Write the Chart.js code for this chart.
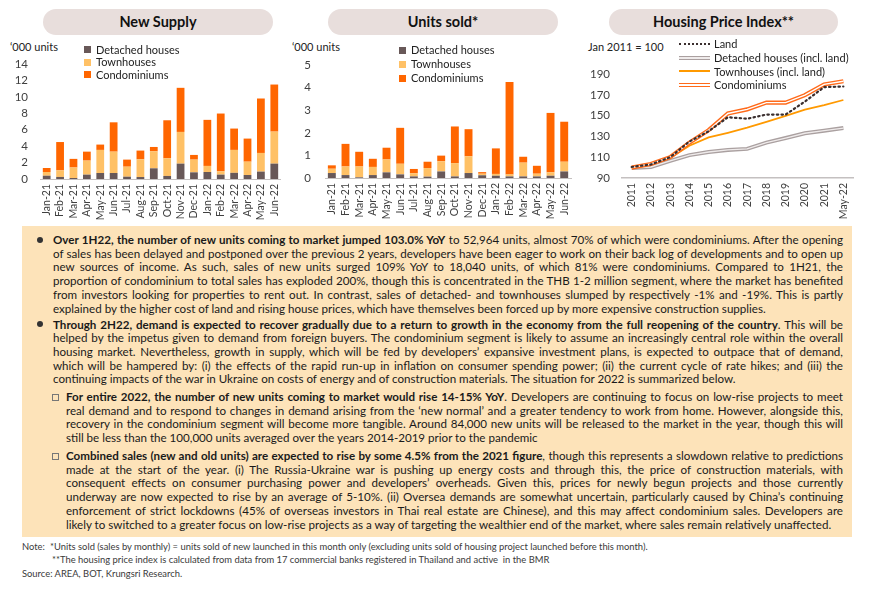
<!DOCTYPE html>
<html>
<head>
<meta charset="utf-8">
<script src="https://cdn.jsdelivr.net/npm/chart.js@4.4.0/dist/chart.umd.min.js"></script>
<style>
  body { margin: 0; background: #fff; font-family: Lato, "Noto Sans", sans-serif; color: #1a1a1a; }
  #page { position: relative; width: 870px; height: 590px; overflow: hidden; }
  canvas { position: absolute; }
  .pill { position: absolute; top: 9px; height: 26px; line-height: 26px; border-radius: 13px;
          background: #e8dedc; text-align: center; font-weight: bold; font-size: 14.5px; color: #111; }
  .unit { position: absolute; top: 40px; font-size: 11px; line-height: 14px; color: #222; white-space: nowrap; }
  .leg { position: absolute; font-size: 11px; color: #222; white-space: nowrap; }
  .leg div { display: flex; align-items: center; }
  .sq { width: 7px; height: 7px; margin-right: 5px; }
  .ico { width: 31px; margin-right: 4px; box-sizing: content-box; }
  .box { position: absolute; left: 22px; top: 226px; width: 830px; height: 311px; background: #fde3b9; }
  .para { position: absolute; font-size: 11.6px; line-height: 13.7px; }
  .ln { white-space: nowrap; text-align: justify; text-align-last: justify; overflow: visible; }
  .ln.last { text-align: left; text-align-last: left; }
  .dot { position: absolute; width: 6px; height: 6px; border-radius: 50%; background: #333; }
  .sqb { position: absolute; width: 5px; height: 5px; border: 1px solid #777; }
  .note { position: absolute; font-size: 9.4px; line-height: 13.3px; color: #3a3a3a; white-space: nowrap; }
</style>
</head>
<body>
<div id="page">
  <div class="pill" style="left:43px;width:230px">New Supply</div>
  <div class="pill" style="left:328px;width:230px">Units sold*</div>
  <div class="pill" style="left:609px;width:229px">Housing Price Index**</div>

  <div class="unit" style="left:10px">‘000 units</div>
  <div class="unit" style="left:292px">‘000 units</div>
  <div class="unit" style="left:588px">Jan 2011 = 100</div>

  <canvas id="supply" width="292" height="185" style="left:0;top:40px"></canvas>
  <canvas id="sold" width="290" height="185" style="left:292px;top:40px"></canvas>
  <canvas id="hpi" width="288" height="185" style="left:582px;top:40px"></canvas>

  <div class="leg" style="left:84px;top:43.5px;line-height:12.5px">
    <div><span class="sq" style="background:#685858"></span>Detached houses</div>
    <div><span class="sq" style="background:#ffc166"></span>Townhouses</div>
    <div><span class="sq" style="background:#ff6600"></span>Condominiums</div>
  </div>
  <div class="leg" style="left:399px;top:43px;line-height:14px">
    <div><span class="sq" style="background:#685858"></span>Detached houses</div>
    <div><span class="sq" style="background:#ffc166"></span>Townhouses</div>
    <div><span class="sq" style="background:#ff6600"></span>Condominiums</div>
  </div>
  <div class="leg" style="left:679px;top:37px;line-height:13.8px">
    <div><span class="ico" style="border-top:2.4px dotted #3a2e2e"></span>Land</div>
    <div><span class="ico" style="height:2px;background:#efebeb;border-top:1.3px solid #aaa0a0;border-bottom:1.3px solid #aaa0a0"></span>Detached houses (incl. land)</div>
    <div><span class="ico" style="height:2px;background:#ff9900"></span>Townhouses (incl. land)</div>
    <div><span class="ico" style="height:2px;background:#fff;border-top:1.2px solid #ff6a1a;border-bottom:1.2px solid #ff6a1a"></span>Condominiums</div>
  </div>

  <div class="box"></div>

  <div class="dot" style="left:37px;top:237px"></div>
  <div class="para" style="left:53px;top:233px;width:790px">
    <div class="ln"><b>Over 1H22, the number of new units coming to market jumped 103.0% YoY</b> to 52,964 units, almost 70% of which were condominiums. After the opening</div>
    <div class="ln">of sales has been delayed and postponed over the previous 2 years, developers have been eager to work on their back log of developments and to open up</div>
    <div class="ln">new sources of income. As such, sales of new units surged 109% YoY to 18,040 units, of which 81% were condominiums. Compared to 1H21, the</div>
    <div class="ln">proportion of condominium to total sales has exploded 200%, though this is concentrated in the THB 1-2 million segment, where the market has benefited</div>
    <div class="ln">from investors looking for properties to rent out. In contrast, sales of detached- and townhouses slumped by respectively -1% and -19%. This is partly</div>
    <div class="ln last">explained by the higher cost of land and rising house prices, which have themselves been forced up by more expensive construction supplies.</div>
  </div>

  <div class="dot" style="left:37px;top:321px"></div>
  <div class="para" style="left:53px;top:317.5px;width:790px">
    <div class="ln"><b>Through 2H22, demand is expected to recover gradually due to a return to growth in the economy from the full reopening of the country</b>. This will be</div>
    <div class="ln">helped by the impetus given to demand from foreign buyers. The condominium segment is likely to assume an increasingly central role within the overall</div>
    <div class="ln">housing market. Nevertheless, growth in supply, which will be fed by developers’ expansive investment plans, is expected to outpace that of demand,</div>
    <div class="ln">which will be hampered by: (i) the effects of the rapid run-up in inflation on consumer spending power; (ii) the current cycle of rate hikes; and (iii) the</div>
    <div class="ln last">continuing impacts of the war in Ukraine on costs of energy and of construction materials. The situation for 2022 is summarized below.</div>
  </div>

  <div class="sqb" style="left:52px;top:394px"></div>
  <div class="para" style="left:66px;top:390px;width:777px">
    <div class="ln"><b>For entire 2022, the number of new units coming to market would rise 14-15% YoY</b>. Developers are continuing to focus on low-rise projects to meet</div>
    <div class="ln">real demand and to respond to changes in demand arising from the ‘new normal’ and a greater tendency to work from home. However, alongside this,</div>
    <div class="ln">recovery in the condominium segment will become more tangible. Around 84,000 new units will be released to the market in the year, though this will</div>
    <div class="ln last">still be less than the 100,000 units averaged over the years 2014-2019 prior to the pandemic</div>
  </div>

  <div class="sqb" style="left:52px;top:453px"></div>
  <div class="para" style="left:66px;top:449px;width:777px">
    <div class="ln"><b>Combined sales (new and old units) are expected to rise by some 4.5% from the 2021 figure</b>, though this represents a slowdown relative to predictions</div>
    <div class="ln">made at the start of the year. (i) The Russia-Ukraine war is pushing up energy costs and through this, the price of construction materials, with</div>
    <div class="ln">consequent effects on consumer purchasing power and developers’ overheads. Given this, prices for newly begun projects and those currently</div>
    <div class="ln">underway are now expected to rise by an average of 5-10%. (ii) Oversea demands are somewhat uncertain, particularly caused by China’s continuing</div>
    <div class="ln">enforcement of strict lockdowns (45% of overseas investors in Thai real estate are Chinese), and this may affect condominium sales. Developers are</div>
    <div class="ln last">likely to switched to a greater focus on low-rise projects as a way of targeting the wealthier end of the market, where sales remain relatively unaffected.</div>
  </div>

  <div class="note" style="left:22px;top:540px">Note:</div>
  <div class="note" style="left:50px;top:540px">*Units sold (sales by monthly) = units sold of new launched in this month only (excluding units sold of housing project launched before this month).</div>
  <div class="note" style="left:52px;top:553.3px">**The housing price index is calculated from data from 17 commercial banks registered in Thailand and active&nbsp; in the BMR</div>
  <div class="note" style="left:22px;top:566.7px">Source: AREA, BOT, Krungsri Research.</div>
</div>

<script>
// monthly data, '000 units
const months = ['Jan-21', 'Feb-21', 'Mar-21', 'Apr-21', 'May-21', 'Jun-21', 'Jul-21', 'Aug-21', 'Sep-21',
  'Oct-21', 'Nov-21', 'Dec-21', 'Jan-22', 'Feb-22', 'Mar-22', 'Apr-22', 'May-22', 'Jun-22'];

const supplyDetached = [0.40, 0.25, 0.12, 0.53, 0.73, 0.73, 0.28, 0.24, 1.30, 0.37, 1.87, 0.81, 0.85, 0.53, 0.75, 0.49, 0.90, 1.87];
const supplyTownhouses = [0.45, 0.80, 1.28, 1.71, 2.81, 2.60, 1.22, 2.16, 2.07, 2.15, 3.86, 1.55, 0.74, 0.40, 2.79, 1.62, 2.27, 3.90];
const supplyCondos = [0.49, 3.45, 1.05, 1.09, 0.65, 3.57, 0.86, 1.06, 0.53, 4.63, 5.37, 0.57, 5.61, 7.04, 2.60, 2.81, 6.63, 5.73];

const soldDetached = [0.22, 0.13, 0.03, 0.13, 0.25, 0.16, 0.07, 0.06, 0.29, 0.07, 0.22, 0.12, 0.10, 0.07, 0.07, 0.07, 0.10, 0.29];
const soldTownhouses = [0.19, 0.38, 0.48, 0.36, 0.57, 0.47, 0.14, 0.38, 0.45, 0.59, 0.74, 0.07, 0.08, 0.09, 0.61, 0.12, 0.15, 0.43];
const soldCondos = [0.15, 1.00, 0.65, 0.36, 0.52, 1.59, 0.19, 0.28, 0.25, 1.62, 1.20, 0.07, 1.13, 4.09, 0.26, 0.35, 2.63, 1.77];

// housing price index, Jan 2011 = 100
const hpiYears = ['2011', '2012', '2013', '2014', '2015', '2016', '2017', '2018', '2019', '2020', '2021', 'May-22'];
const hpiLand = [100.6, 103, 110, 125, 135, 148.4, 147, 151, 151, 163.5, 177.4, 178];
const hpiDetached = [99.7, 100.6, 106.5, 112, 115, 117, 118, 124, 128.4, 133, 135.5, 138];
const hpiTownhouses = [100, 103, 109.4, 121, 129, 133.5, 138.4, 144, 149.7, 155.8, 160, 165];
const hpiCondos = [100, 103.5, 110, 124, 136, 152, 156, 162.5, 162.5, 169.7, 180, 183];

Chart.defaults.font.family = 'Lato';
Chart.defaults.color = '#404040';
Chart.defaults.animation = false;
Chart.defaults.plugins.legend.display = false;
Chart.defaults.plugins.tooltip.enabled = false;

function stackedBars(id, detached, town, condo, yMax, step, yWidth, yPad, pad, xHeight) {
  new Chart(document.getElementById(id), {
    type: 'bar',
    data: {
      labels: months,
      datasets: [
        { label: 'Detached houses', data: detached, backgroundColor: '#685858' },
        { label: 'Townhouses', data: town, backgroundColor: '#ffc166' },
        { label: 'Condominiums', data: condo, backgroundColor: '#ff6600' }
      ]
    },
    options: {
      responsive: false,
      layout: { padding: pad },
      datasets: { bar: { categoryPercentage: 1, barPercentage: 0.58 } },
      scales: {
        x: {
          stacked: true,
          grid: { display: false, drawTicks: false },
          border: { display: true, color: '#c4c0c0', width: 1 },
          ticks: { font: { size: 10.5 }, maxRotation: 90, minRotation: 90, padding: 5, autoSkip: false },
          afterFit: s => { s.height = xHeight; }
        },
        y: {
          stacked: true, min: 0, max: yMax,
          grid: { display: false, drawTicks: false },
          border: { display: false },
          ticks: { stepSize: step, font: { size: 11.5 }, padding: yPad, autoSkip: false },
          afterFit: s => { s.width = yWidth; }
        }
      }
    }
  });
}

stackedBars('supply', supplyDetached, supplyTownhouses, supplyCondos, 14, 2, 40, 12,
  { top: 24, right: 4, left: 0, bottom: 0 }, 46);
stackedBars('sold', soldDetached, soldTownhouses, soldCondos, 5, 1, 33, 14,
  { top: 25, right: 7, left: 0, bottom: 0 }, 47);

// double lines: a wide coloured line with a thin light one on top
new Chart(document.getElementById('hpi'), {
  type: 'line',
  data: {
    labels: hpiYears,
    datasets: [
      { label: 'Land', data: hpiLand, borderColor: '#3a2e2e', borderWidth: 2.2, borderDash: [1.5, 3.2], borderCapStyle: 'round', order: 0 },
      { label: 'Condominiums', data: hpiCondos, borderColor: '#ffffff', borderWidth: 1.4, order: 1 },
      { label: 'Condominiums', data: hpiCondos, borderColor: '#ff6a1a', borderWidth: 4.2, order: 2 },
      { label: 'Townhouses (incl. land)', data: hpiTownhouses, borderColor: '#ff9900', borderWidth: 1.8, order: 3 },
      { label: 'Detached houses (incl. land)', data: hpiDetached, borderColor: '#efebeb', borderWidth: 1.4, order: 4 },
      { label: 'Detached houses (incl. land)', data: hpiDetached, borderColor: '#aaa0a0', borderWidth: 4, order: 5 }
    ]
  },
  options: {
    responsive: false,
    layout: { padding: { top: 34, right: 17, left: 0, bottom: 0 } },
    elements: { point: { radius: 0 }, line: { tension: 0, fill: false } },
    scales: {
      x: {
        offset: true,
        grid: { display: false, drawTicks: false },
        border: { display: true, color: '#c4c0c0', width: 1.5 },
        ticks: { font: { size: 10.5 }, maxRotation: 90, minRotation: 90, padding: 5, autoSkip: false },
        afterFit: s => { s.height = 47; }
      },
      y: {
        min: 90, max: 190,
        grid: { display: false, drawTicks: false },
        border: { display: false },
        ticks: { stepSize: 20, font: { size: 11.5 }, padding: 12, autoSkip: false },
        afterFit: s => { s.width = 40; }
      }
    }
  }
});

// squeeze any justified line that runs past its box
document.querySelectorAll('.ln').forEach(el => {
  let ls = 0;
  while (el.scrollWidth > el.clientWidth + 0.5 && ls > -1) {
    ls -= 0.05;
    el.style.letterSpacing = ls + 'px';
  }
});
</script>
</body>
</html>
